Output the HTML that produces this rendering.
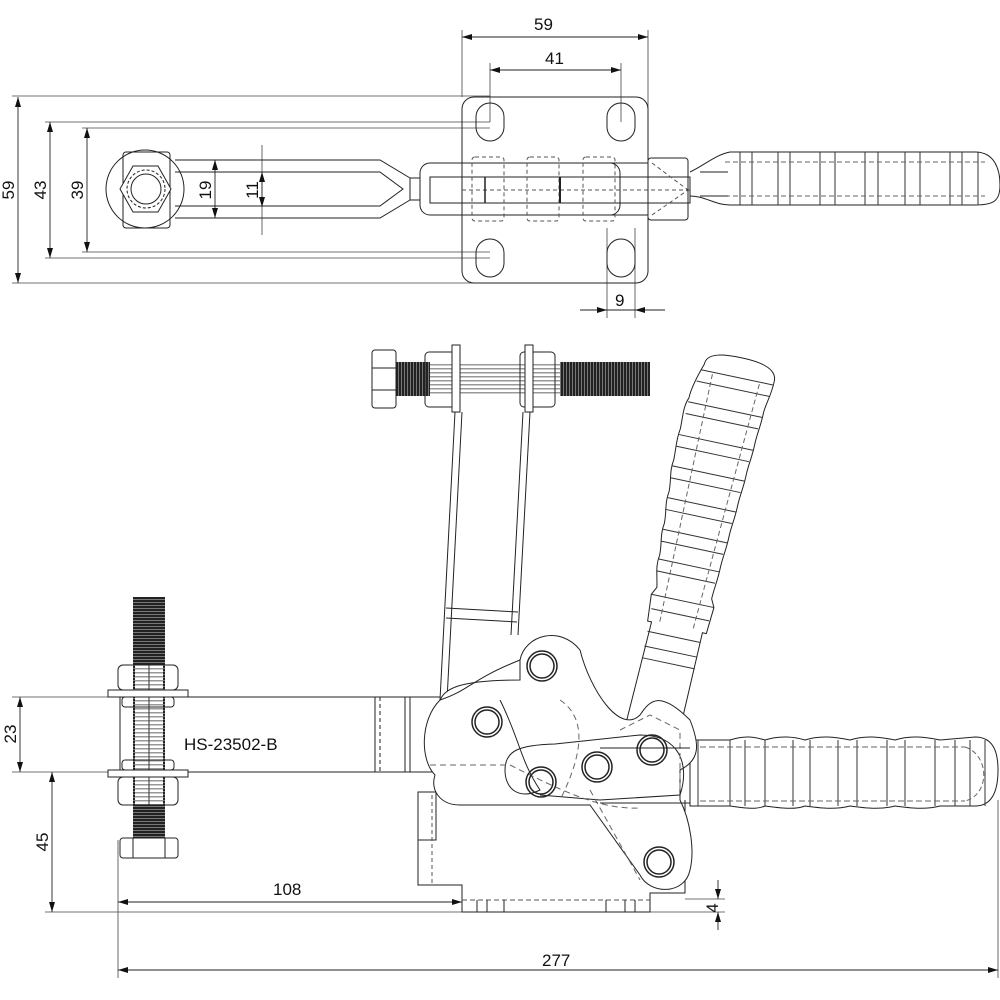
<!DOCTYPE html>
<html><head><meta charset="utf-8"><style>
html,body{margin:0;padding:0;background:#fff}
svg{display:block}
text{font-family:"Liberation Sans",sans-serif;font-size:17px;fill:#111}
</style></head><body>
<svg width="1000" height="1000" viewBox="0 0 1000 1000" xmlns="http://www.w3.org/2000/svg">
<defs>
<marker id="a" markerWidth="10" markerHeight="6" refX="10" refY="3" orient="auto-start-reverse" markerUnits="userSpaceOnUse"><path d="M0,0 L10,3 L0,6z" fill="#111"/></marker>
<pattern id="th" width="4" height="3" patternUnits="userSpaceOnUse"><rect width="4" height="3" fill="#222"/><rect y="2" width="4" height="1" fill="#777"/></pattern>
<pattern id="tv" width="3" height="4" patternUnits="userSpaceOnUse"><rect width="3" height="4" fill="#222"/><rect x="2" width="1" height="4" fill="#777"/></pattern>
<pattern id="thl" width="3" height="4" patternUnits="userSpaceOnUse"><rect width="3" height="4" fill="#fff"/><rect width="3" height="1.5" fill="#999"/></pattern>
</defs>
<g fill="none" stroke="#222" stroke-width="1">

<!-- ===== TOP VIEW ===== -->
<g stroke="#444" stroke-width="0.8">
<line x1="12" y1="96" x2="490" y2="96"/>
<line x1="45" y1="122" x2="490" y2="122"/>
<line x1="82" y1="128" x2="490" y2="128"/>
<line x1="82" y1="252" x2="490" y2="252"/>
<line x1="45" y1="258" x2="490" y2="258"/>
<line x1="12" y1="283" x2="490" y2="283"/>
<line x1="462" y1="30" x2="462" y2="97"/>
<line x1="648" y1="30" x2="648" y2="160"/>
<line x1="490" y1="63" x2="490" y2="122"/>
<line x1="621" y1="63" x2="621" y2="122"/>
<line x1="607" y1="228" x2="607" y2="318"/>
<line x1="635" y1="228" x2="635" y2="318"/>
<line x1="262" y1="145" x2="262" y2="235"/>
</g>
<g stroke="#222" stroke-width="0.9">
<line x1="18" y1="97" x2="18" y2="283" marker-start="url(#a)" marker-end="url(#a)"/>
<line x1="50" y1="122" x2="50" y2="258" marker-start="url(#a)" marker-end="url(#a)"/>
<line x1="87" y1="128" x2="87" y2="252" marker-start="url(#a)" marker-end="url(#a)"/>
<line x1="215" y1="160" x2="215" y2="218" marker-start="url(#a)" marker-end="url(#a)"/>
<line x1="262" y1="172" x2="262" y2="207" marker-start="url(#a)" marker-end="url(#a)"/>
<line x1="462" y1="37" x2="648" y2="37" marker-start="url(#a)" marker-end="url(#a)"/>
<line x1="490" y1="70" x2="621" y2="70" marker-start="url(#a)" marker-end="url(#a)"/>
<line x1="580" y1="310" x2="607" y2="310" marker-end="url(#a)"/>
<line x1="665" y1="310" x2="635" y2="310" marker-end="url(#a)"/>
<line x1="607" y1="310" x2="635" y2="310"/>
</g>
<rect x="462" y="97" width="186" height="186" rx="12"/>
<rect x="476" y="103" width="28" height="38" rx="14"/>
<rect x="607" y="103" width="28" height="38" rx="14"/>
<rect x="476" y="239" width="28" height="38" rx="14"/>
<rect x="607" y="239" width="28" height="38" rx="14"/>
<circle cx="145" cy="189" r="39"/>
<rect x="123" y="152" width="47" height="76" rx="3"/>
<polygon points="120,189 133,166 158,166 171,189 158,212 133,212" fill="#fff"/>
<circle cx="146" cy="189" r="19" stroke-dasharray="3,2"/>
<circle cx="146" cy="189" r="15"/>
<path d="M175,160 L380,160 L410,178 L410,200 L380,218 L175,218"/>
<path d="M175,172 L380,172 L403,189 L380,206 L175,206"/>
<path d="M410,178 L420,178 M410,200 L420,200"/>
<rect x="420" y="163" width="200" height="52" rx="10"/>
<rect x="430" y="177" width="260" height="26"/>
<line x1="462" y1="163" x2="648" y2="163"/>
<line x1="462" y1="215" x2="648" y2="215"/>
<g stroke-dasharray="4,3" stroke="#555">
<rect x="472" y="157" width="32" height="64" rx="3"/>
<rect x="527" y="157" width="32" height="64" rx="3"/>
<rect x="583" y="157" width="32" height="64" rx="3"/>
<line x1="462" y1="190" x2="690" y2="190"/>
<line x1="652" y1="163" x2="688" y2="190"/><line x1="652" y1="215" x2="688" y2="190"/>
</g>
<rect x="648" y="158" width="40" height="62" rx="3"/>
<line x1="560" y1="177" x2="560" y2="203" stroke-width="2"/>
<line x1="485" y1="177" x2="485" y2="203" stroke-width="1.5"/>
<path d="M690,172 C705,165 715,155 730,152 L975,152 C995,152 1000,170 1000,185 C1000,200 995,205 975,205 L730,205 C715,205 705,196 690,196"/>
<g stroke="#333">
<path d="M740,152 V205 M752,152V205 M778,152V205 M790,152V205 M820,152V205 M835,152V205 M865,152V205 M878,152V205 M905,152V205 M920,152V205 M950,152V205 M962,152V205 M978,152V205"/>
</g>
<line x1="725" y1="162" x2="985" y2="162" stroke-dasharray="5,3" stroke="#666"/>
<line x1="725" y1="196" x2="985" y2="196" stroke-dasharray="5,3" stroke="#666"/>
<path d="M700,172 L728,172 M700,196 L728,196"/>

<!-- ===== SIDE VIEW ===== -->
<g stroke="#444" stroke-width="0.8">
<line x1="12" y1="697" x2="110" y2="697"/>
<line x1="12" y1="772" x2="110" y2="772"/>
<line x1="45" y1="912" x2="462" y2="912"/>
<line x1="118" y1="840" x2="118" y2="978"/>
<line x1="998" y1="800" x2="998" y2="978"/>
<line x1="650" y1="912" x2="725" y2="912"/>
<line x1="685" y1="899" x2="725" y2="899"/>
</g>
<g stroke="#222" stroke-width="0.9">
<line x1="20" y1="697" x2="20" y2="772" marker-start="url(#a)" marker-end="url(#a)"/>
<line x1="52" y1="772" x2="52" y2="912" marker-start="url(#a)" marker-end="url(#a)"/>
<line x1="118" y1="902" x2="462" y2="902" marker-start="url(#a)" marker-end="url(#a)"/>
<line x1="118" y1="970" x2="998" y2="970" marker-start="url(#a)" marker-end="url(#a)"/>
<line x1="718" y1="880" x2="718" y2="899" marker-end="url(#a)"/>
<line x1="718" y1="930" x2="718" y2="912" marker-end="url(#a)"/>
</g>

<!-- top screw -->
<rect x="372" y="350" width="24" height="58" rx="3"/>
<line x1="372" y1="368" x2="396" y2="368"/><line x1="372" y1="390" x2="396" y2="390"/>
<rect x="396" y="362" width="254" height="34" fill="url(#tv)" stroke="none"/>
<rect x="430" y="362" width="130" height="34" fill="url(#thl)" stroke="none"/>
<rect x="425" y="352" width="33" height="55" rx="4"/>
<rect x="520" y="352" width="35" height="55" rx="4"/>
<rect x="452" y="345" width="8" height="67" fill="#fff"/>
<rect x="525" y="345" width="8" height="67" fill="#fff"/>
<path d="M455,412 L440,700 M462,412 L447,700 M530,412 L518,635 M523,412 L511,635"/>
<path d="M446,608 L518,612 M446,618 L517,622"/>

<!-- diagonal handle -->
<g transform="translate(742,360) rotate(12)">
<path d="M-36,12 C-36,0 -20,-2 0,-2 C20,-2 36,2 36,14 C36,30 32,38 32,48 C32,62 30,68 30,80 C30,94 28,100 28,112 C28,126 26,132 26,144 C26,158 24,164 24,176 C24,190 22,196 22,208 C22,222 20,230 20,240 L24,248 L22,275 L18,275 L16,380 L-38,380 L-34,275 L-38,275 L-40,248 L-36,240 C-38,228 -42,220 -40,208 C-40,196 -44,188 -42,176 C-42,164 -46,156 -44,144 C-44,132 -48,124 -46,112 C-46,100 -48,92 -46,80 C-46,68 -48,58 -44,48 C-44,38 -40,24 -36,12Z" fill="#fff"/>
<g stroke="#333">
<path d="M-38,18H36 M-40,30H34 M-44,52H32 M-44,64H30 M-46,86H30 M-46,98H28 M-46,118H28 M-46,130H26 M-44,150H26 M-44,162H24 M-42,182H24 M-42,194H22 M-40,212H22 M-40,224H20 M-40,248H24 M-37,262H22 M-36,285H18 M-36,300H18 M-36,312H18"/>
</g>
<path d="M-26,20 L-26,275 M22,20 L8,275" stroke="#666" stroke-dasharray="5,3"/>
</g>

<!-- horizontal handle -->
<path d="M690,740 L730,740 C745,735 755,737 765,740 C780,735 795,737 805,740 C820,735 835,737 850,740 C865,735 880,737 895,740 C910,735 925,737 940,740 L975,737 C995,737 998,755 998,770 C998,795 990,806 975,806 L940,806 C925,810 910,808 895,806 C880,810 865,808 850,806 C835,810 820,808 805,806 C795,810 780,808 765,806 C755,810 745,808 730,806 L690,806 Z"/>
<g stroke="#333"><path d="M698,740V806 M730,740V806 M745,740V806 M765,740V806 M793,740V806 M810,740V806 M838,740V806 M857,740V806 M887,740V806 M905,740V806 M935,740V806 M955,740V806 M970,740V806 M985,740V806"/></g>
<line x1="700" y1="747" x2="965" y2="747" stroke="#666" stroke-dasharray="6,3"/>
<line x1="700" y1="801" x2="965" y2="801" stroke="#666" stroke-dasharray="6,3"/>
<path d="M965,747 C990,755 990,795 965,801" stroke="#666" stroke-dasharray="5,3"/>

<!-- clamp arm -->
<rect x="120" y="697" width="290" height="75" fill="#fff"/>
<line x1="375" y1="697" x2="375" y2="772"/><line x1="380" y1="697" x2="380" y2="772" stroke-dasharray="4,3"/>
<line x1="405" y1="697" x2="405" y2="772"/>
<line x1="410" y1="697" x2="440" y2="697"/><line x1="410" y1="772" x2="440" y2="772"/>

<!-- base -->
<path d="M418,792 L436,792 L436,840 L418,840 Z"/>
<path d="M418,792 L418,885 L462,885 L462,912 L650,912 L650,893 L685,893 L685,800"/>
<line x1="462" y1="900" x2="650" y2="900" stroke-dasharray="5,3" stroke="#555"/>
<path d="M477,900V912 M487,900V912 M504,900V912 M606,900V912 M625,900V912 M635,900V912"/>
<line x1="432" y1="795" x2="432" y2="884" stroke-dasharray="4,3" stroke="#555"/>

<!-- link plates -->
<path d="M440,700 C445,690 455,680 520,680 L520,660 C525,635 560,625 580,650 C590,690 620,735 640,715 C650,700 660,690 690,720 C700,745 700,760 680,770 L680,800 C690,820 695,850 690,870 C685,895 650,895 640,875 L590,805 L460,805 C440,805 430,790 435,775 C420,760 420,720 440,700Z" fill="#fff"/>
<path d="M500,700 C520,740 520,760 540,790 C520,800 505,790 505,770 C505,750 520,745 555,744 L640,735 C680,735 690,765 680,795 L600,800 L540,795"/>
<path d="M440,700 C470,690 470,680 520,660" />
<path d="M430,765 L510,765 C560,790 600,810 640,808" stroke-dasharray="6,4" stroke="#666"/>
<path d="M560,700 C590,720 580,760 560,800 M620,730 L650,715 L680,730 L680,790 M590,790 L640,880" stroke-dasharray="6,4" stroke="#666"/>
<line x1="600" y1="748" x2="690" y2="748"/>
<line x1="600" y1="803" x2="690" y2="803"/>
<g stroke-width="1.5">
<circle cx="542" cy="666" r="15"/><circle cx="542" cy="666" r="12"/>
<circle cx="487" cy="722" r="15"/><circle cx="487" cy="722" r="12"/>
<circle cx="652" cy="750" r="15"/><circle cx="652" cy="750" r="12"/>
<circle cx="597" cy="767" r="15"/><circle cx="597" cy="767" r="12"/>
<circle cx="541" cy="782" r="15"/><circle cx="541" cy="782" r="12"/>
<circle cx="659" cy="862" r="15"/><circle cx="659" cy="862" r="12"/>
</g>

<!-- vertical stud -->
<rect x="133" y="597" width="32" height="245" fill="url(#th)" stroke="none"/>
<rect x="135" y="665" width="28" height="140" fill="url(#thl)" stroke="none"/>
<line x1="149" y1="665" x2="149" y2="805" stroke="#333"/>
<rect x="118" y="665" width="60" height="25" rx="5"/>
<rect x="108" y="690" width="80" height="7" fill="#fff"/>
<rect x="122" y="697" width="52" height="10" rx="3"/>
<rect x="122" y="760" width="52" height="10" rx="3"/>
<rect x="108" y="770" width="80" height="7" fill="#fff"/>
<rect x="118" y="777" width="60" height="28" rx="5"/>
<rect x="120" y="838" width="58" height="20" rx="3" fill="#fff"/>
<line x1="133" y1="838" x2="133" y2="858"/><line x1="165" y1="838" x2="165" y2="858"/>
</g>

<text x="534" y="30">59</text>
<text x="545" y="64">41</text>
<text x="615" y="306">9</text>
<text x="184" y="750" font-size="20">HS-23502-B</text>
<text x="273" y="895">108</text>
<text x="542" y="966">277</text>
<text transform="translate(14,190) rotate(-90)" text-anchor="middle">59</text>
<text transform="translate(46,190) rotate(-90)" text-anchor="middle">43</text>
<text transform="translate(83,190) rotate(-90)" text-anchor="middle">39</text>
<text transform="translate(211,190) rotate(-90)" text-anchor="middle">19</text>
<text transform="translate(258,190) rotate(-90)" text-anchor="middle">11</text>
<text transform="translate(16,734) rotate(-90)" text-anchor="middle">23</text>
<text transform="translate(48,842) rotate(-90)" text-anchor="middle">45</text>
<text transform="translate(718,908) rotate(-90)" text-anchor="middle" font-size="10">4</text>
</svg>
</body></html>
